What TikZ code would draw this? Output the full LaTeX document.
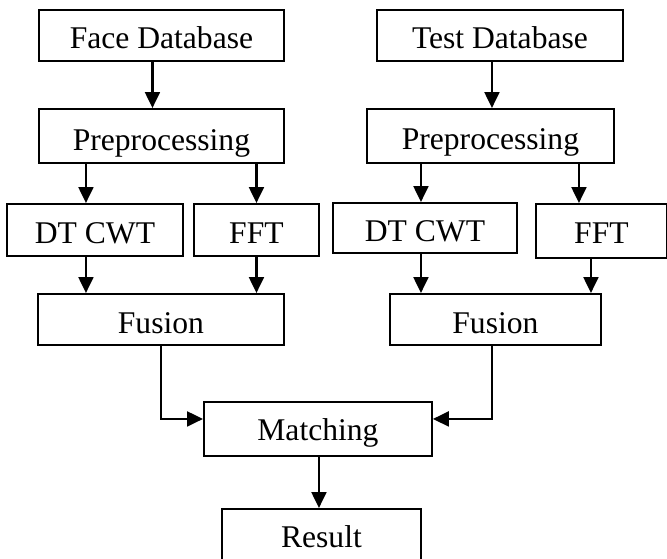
\documentclass[tikz,border=0pt]{standalone}
\usepackage{fontspec}
\setmainfont{Liberation Serif}
\usetikzlibrary{arrows.meta}

\begin{document}
\begin{tikzpicture}[x=1pt,y=-1pt,
	box/.style={draw, line width=1.9pt, inner sep=0pt, anchor=north west,
		font=\fontsize{31.6pt}{36pt}\selectfont},
	blk/.style n args={4}{box, minimum width=#1pt, minimum height=#2pt,
		text height=#3pt, text depth=#4pt},
	arr/.style={line width=2.1pt, -{Triangle[width=15pt,length=16pt]}}]
	\useasboundingbox (0,0) rectangle (667,558);
	\clip (0,0) rectangle (667,558);

	% training side
	\node[blk={245}{51}{39}{12}] (fdb)  at (38,9)    {Face Database};
	\node[blk={245}{54}{42}{12}] (pre1) at (38,108)  {Preprocessing};
	\node[blk={176}{52}{40}{12}] (dt1)  at (6,203)   {DT CWT};
	\node[blk={125}{52}{40}{12}] (fft1) at (193,203) {FFT};
	\node[blk={246}{51}{40}{11}] (fus1) at (37,293)  {Fusion};

	% test side
	\node[blk={246}{51}{39}{12}] (tdb)  at (376,9)   {Test Database};
	\node[blk={247}{54}{41}{13}] (pre2) at (366,108) {Preprocessing};
	\node[blk={184}{50}{39}{11}] (dt2)  at (332,202) {DT CWT};
	\node[blk={131}{54}{40}{14}] (fft2) at (535,203) {FFT};
	\node[blk={211}{51}{40}{11}] (fus2) at (389,293) {Fusion};

	% common part
	\node[blk={228}{54}{39}{15}] (mat) at (203,401) {Matching};
	\node[blk={199}{62}{39}{23}] (res) at (221,508) {Result};

	\draw[arr] ([xshift=-9pt]fdb.south) -- ([xshift=-9pt]pre1.north);
	\draw[arr] ([xshift=-9pt]dt1.north |- pre1.south) -- ([xshift=-9pt]dt1.north);
	\draw[arr] (fft1.north |- pre1.south) -- (fft1.north);
	\draw[arr] ([xshift=-9pt]dt1.south) -- ([xshift=-9pt]dt1.south |- fus1.north);
	\draw[arr] (fft1.south) -- (fft1.south |- fus1.north);

	\draw[arr] ([xshift=1.5pt]pre2.north |- tdb.south) -- ([xshift=1.5pt]pre2.north);
	\draw[arr] ([xshift=-4pt]dt2.north |- pre2.south) -- ([xshift=-4pt]dt2.north);
	\draw[arr] ([xshift=-22.5pt]fft2.north |- pre2.south) -- ([xshift=-22.5pt]fft2.north);
	\draw[arr] ([xshift=-4pt]dt2.south) -- ([xshift=-4pt]dt2.south |- fus2.north);
	\draw[arr] ([xshift=-10.5pt]fft2.south) -- ([xshift=-10.5pt]fft2.south |- fus2.north);

	\draw[arr] (fus1.south) |- ([yshift=10pt]mat.west);
	\draw[arr] ([xshift=-3.5pt]fus2.south) |- ([yshift=10pt]mat.east);
	\draw[arr] ([xshift=1pt]mat.south) -- ([xshift=1pt]mat.south |- res.north);
\end{tikzpicture}
\end{document}
